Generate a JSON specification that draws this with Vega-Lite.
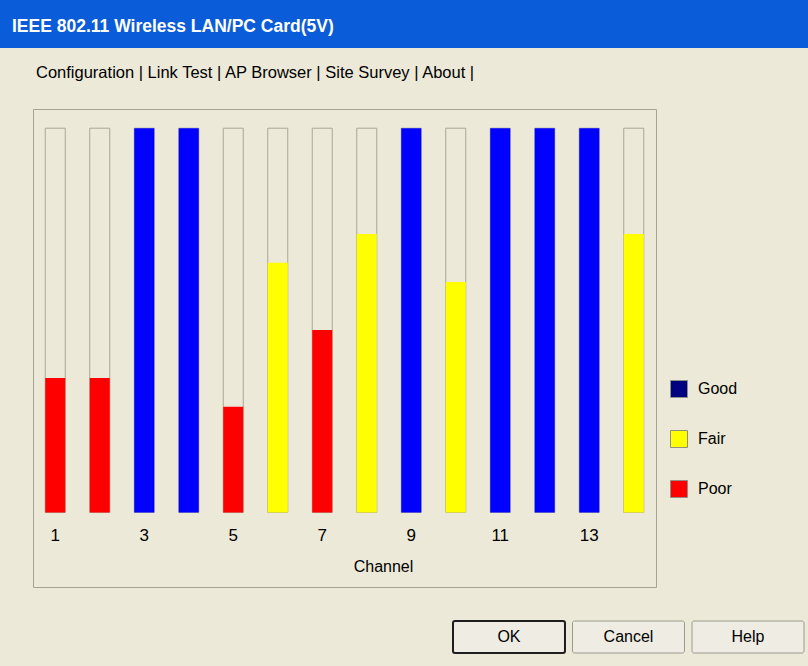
{
  "$schema": "https://vega.github.io/schema/vega-lite/v6.json",
  "background": "#ECE9D8",
  "padding": {"left": 0, "top": 0, "right": 0, "bottom": 13},
  "config": {"font": "Liberation Sans", "view": {"stroke": null}},
  "spacing": 16,
  "columns": 1,
  "bounds": "full",
  "concat": [
    {
      "width": 808,
      "height": 48,
      "view": {"fill": "#0B5CD8", "stroke": null},
      "data": {"values": [{"caption": "IEEE 802.11 Wireless LAN/PC Card(5V)"}]},
      "mark": {"type": "text", "align": "left", "baseline": "middle", "dx": 12, "dy": 3, "color": "white", "fontSize": 17.5, "fontWeight": "bold"},
      "encoding": {
        "x": {"datum": 0, "type": "quantitative", "scale": {"domain": [0, 1]}, "axis": null},
        "text": {"field": "caption"}
      }
    },
    {
      "spacing": 16,
      "hconcat": [
        {"width": 16, "height": 1, "data": {"values": []}, "mark": "point"},
        {
          "width": 623,
          "height": 478,
          "view": {"stroke": "#A5A392", "strokeWidth": 1, "fill": null},
          "title": {"text": "Configuration | Link Test | AP Browser | Site Survey | About |", "anchor": "start", "frame": "group", "offset": 15, "baseline": "alphabetic", "fontSize": 16.5, "fontWeight": "normal", "color": "#000000", "dx": 3},
          "data": {"values": [
            {"channel": 1, "value": 35, "quality": "Poor"},
            {"channel": 2, "value": 35, "quality": "Poor"},
            {"channel": 3, "value": 100, "quality": "Good"},
            {"channel": 4, "value": 100, "quality": "Good"},
            {"channel": 5, "value": 27.5, "quality": "Poor"},
            {"channel": 6, "value": 65, "quality": "Fair"},
            {"channel": 7, "value": 47.5, "quality": "Poor"},
            {"channel": 8, "value": 72.5, "quality": "Fair"},
            {"channel": 9, "value": 100, "quality": "Good"},
            {"channel": 10, "value": 60, "quality": "Fair"},
            {"channel": 11, "value": 100, "quality": "Good"},
            {"channel": 12, "value": 100, "quality": "Good"},
            {"channel": 13, "value": 100, "quality": "Good"},
            {"channel": 14, "value": 72.5, "quality": "Fair"}
          ]},
          "encoding": {
            "x": {
              "field": "channel", "type": "ordinal",
              "scale": {"paddingInner": 0.55, "paddingOuter": 0.275},
              "axis": {"title": "Channel", "orient": "bottom", "offset": -75.5, "domain": false, "ticks": false, "grid": false, "labelAngle": 0,
                "labelExpr": "datum.value % 2 == 1 ? datum.label : ''",
                "labelFontSize": 17, "labelColor": "#000000", "labelPadding": 16,
                "titleFontSize": 16, "titleFontWeight": "normal", "titleColor": "#000000", "titlePadding": 15, "titleX": 350}
            }
          },
          "layer": [
            {
              "mark": {"type": "bar", "fill": "#ECE9D8", "stroke": "#A9A796", "strokeWidth": 1},
              "encoding": {
                "y": {"datum": 100, "type": "quantitative", "scale": {"domain": [-19.4, 105], "nice": false, "zero": false}, "axis": null},
                "y2": {"datum": 0}
              }
            },
            {
              "mark": {"type": "bar", "stroke": null},
              "encoding": {
                "y": {"field": "value", "type": "quantitative", "stack": null},
                "y2": {"datum": 0},
                "color": {
                  "condition": {"test": "datum.quality === 'Good'", "value": "#0000FF"},
                  "field": "quality", "type": "nominal",
                  "scale": {"domain": ["Good", "Fair", "Poor"], "range": ["#000080", "#FFFF00", "#FF0000"]},
                  "legend": {
                    "title": null, "orient": "none", "legendX": 670, "legendY": 380,
                    "symbolType": "square", "symbolSize": 289, "symbolStrokeColor": "#8F8F84", "symbolStrokeWidth": 1,
                    "symbolOpacity": 1,
                    "labelFontSize": 16, "labelColor": "#000000", "labelOffset": 10, "rowPadding": 28, "padding": 0
                  }
                }
              }
            }
          ]
        }
      ]
    },
    {
      "spacing": 16,
      "hconcat": [
        {"width": 436, "height": 1, "data": {"values": []}, "mark": "point"},
        {
          "width": 351,
          "height": 32,
          "data": {"values": [{"button": "OK"}, {"button": "Cancel"}, {"button": "Help"}]},
          "encoding": {
            "x": {"field": "button", "type": "nominal", "sort": null,
              "scale": {"paddingInner": 0.063, "paddingOuter": 0},
              "axis": {"orient": "top", "labels": false, "ticks": false, "domain": false, "grid": false, "title": null, "minExtent": 17, "maxExtent": 17}}
          },
          "layer": [
            {
              "mark": {"type": "bar", "fill": "#EEECE3", "cornerRadius": 2},
              "encoding": {
                "stroke": {"condition": {"test": "datum.button === 'OK'", "value": "#1E1E1E"}, "value": "#9A9A8E"},
                "strokeWidth": {"condition": {"test": "datum.button === 'OK'", "value": 2}, "value": 1}
              }
            },
            {
              "mark": {"type": "text", "fontSize": 16, "color": "#000000"},
              "encoding": {"text": {"field": "button"}}
            }
          ]
        }
      ]
    }
  ]
}
